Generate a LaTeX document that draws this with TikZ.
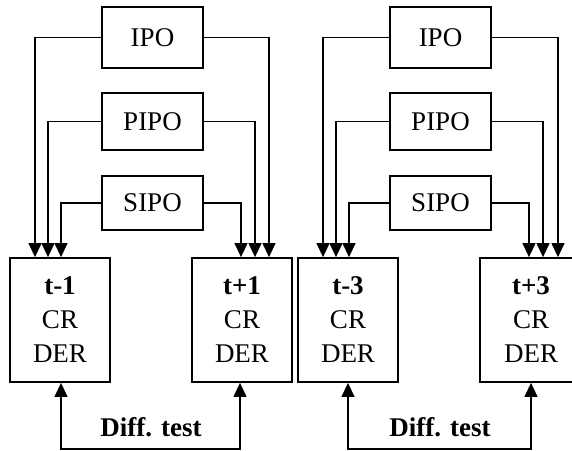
\documentclass[tikz,border=0pt]{standalone}
\usepackage{fontspec}
\setmainfont{Liberation Serif}
\usetikzlibrary{arrows.meta}
\begin{document}
\begin{tikzpicture}[x=1pt,y=-1pt,
  srcbox/.style={draw,line width=1.8pt,minimum width=101pt,inner sep=0pt,
    font=\fontsize{27}{30}\selectfont},
  tbox/.style={draw,line width=1.8pt,minimum width=100pt,minimum height=124pt,
    inner sep=0pt,align=center,font=\fontsize{27}{34}\selectfont},
  feed/.style={line width=1.3pt,-{Triangle[length=14pt,width=13pt]}},
  diff/.style={line width=1.3pt,{Triangle[length=14pt,width=13pt]}-{Triangle[length=14pt,width=13pt]}},
  dlabel/.style={font=\fontsize{27}{30}\selectfont\bfseries,inner sep=0pt}]
\useasboundingbox (0,0) rectangle (572,450);
\clip (0,0) rectangle (572,450);
\fill[white] (0,0) rectangle (572,450);

% ---- left group ----
\node[srcbox,minimum height=61pt] (ipoL)  at (152.5,37.5) {IPO};
\node[srcbox,minimum height=57pt] (pipoL) at (152.5,121.5) {PIPO};
\node[srcbox,minimum height=54pt] (sipoL) at (152.5,203) {SIPO};

\node[tbox] (tm1) at (60,320)  {\textbf{t-1}\\CR\\DER};
\node[tbox] (tp1) at (242,320) {\textbf{t+1}\\CR\\DER};

\draw[feed] (ipoL.west)  -| ([xshift=-25pt]tm1.north);
\draw[feed] (pipoL.west) -| ([xshift=-12pt]tm1.north);
\draw[feed] (sipoL.west) -| ([xshift=1pt]tm1.north);
\draw[feed] (ipoL.east)  -| ([xshift=27pt]tp1.north);
\draw[feed] (pipoL.east) -| ([xshift=13pt]tp1.north);
\draw[feed] (sipoL.east) -| ([xshift=-1pt]tp1.north);

\draw[diff] ([xshift=1pt]tm1.south) -- ++(0,66) -| ([xshift=-2pt]tp1.south);
\node[dlabel] (dtL) at (151,427) {Diff. test};

% ---- right group ----
\node[srcbox,minimum height=61pt] (ipoR)  at (440.5,37.5) {IPO};
\node[srcbox,minimum height=57pt] (pipoR) at (440.5,121.5) {PIPO};
\node[srcbox,minimum height=54pt] (sipoR) at (440.5,203) {SIPO};

\node[tbox] (tm3) at (348,320) {\textbf{t-3}\\CR\\DER};
\node[tbox,minimum width=102pt] (tp3) at (531,320) {\textbf{t+3}\\CR\\DER};

\draw[feed] (ipoR.west)  -| ([xshift=-25pt]tm3.north);
\draw[feed] (pipoR.west) -| ([xshift=-12pt]tm3.north);
\draw[feed] (sipoR.west) -| ([xshift=1pt]tm3.north);
\draw[feed] (ipoR.east)  -| ([xshift=27pt]tp3.north);
\draw[feed] (pipoR.east) -| ([xshift=12pt]tp3.north);
\draw[feed] (sipoR.east) -| ([xshift=-2pt]tp3.north);

\draw[diff] (tm3.south) -- ++(0,66) -| (tp3.south);
\node[dlabel] (dtR) at (440,427) {Diff. test};
\end{tikzpicture}
\end{document}
